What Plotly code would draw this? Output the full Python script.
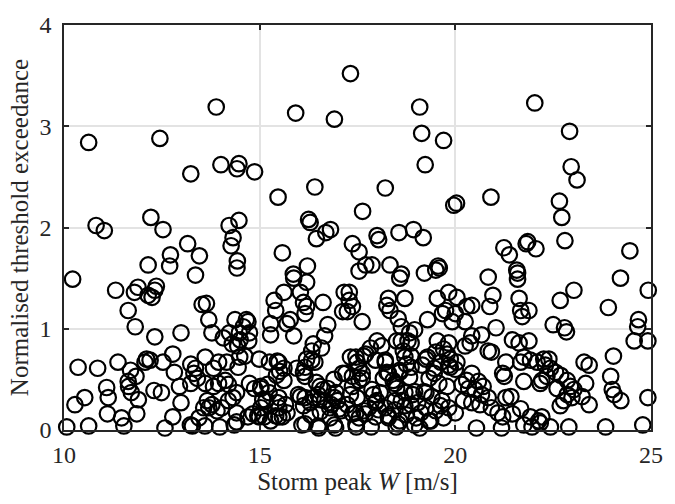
import plotly.graph_objects as go

band_10_12 = [(10.22,1.49),(10.63,2.84),(10.82,2.02),(11.03,1.97),(10.36,0.62),(10.86,0.61),(10.53,0.32),
    (10.28,0.25),(10.07,0.03),(10.63,0.04),(11.09,0.42),(11.32,1.38),(11.80,1.36),(11.89,1.41),(11.64,1.18),
    (11.82,1.02),(11.38,0.67),(11.70,0.59),(11.84,0.53),(11.64,0.48),(11.65,0.43),(11.72,0.37),(11.13,0.32),
    (11.11,0.16),(11.47,0.12),(11.86,0.16),(11.90,0.30),(11.53,0.04)]

band_12_14 = [(12.45,2.88),(13.24,2.53),(13.89,3.19),(12.22,2.10),(12.53,1.98),(13.16,1.84),(13.46,1.72),
    (12.72,1.73),(12.15,1.63),(12.70,1.62),(13.36,1.53),(12.15,1.33),(12.36,1.42),(12.32,1.38),(12.25,1.31),
    (13.53,1.24),(13.64,1.25),(13.70,1.09),(13.78,0.96),(12.32,0.92),(12.99,0.96),(12.07,0.67),(12.11,0.70),
    (12.20,0.69),(12.53,0.67),(12.78,0.75),(12.82,0.57),(13.24,0.65),(13.36,0.61),(13.32,0.56),(13.61,0.72),
    (13.95,0.67),(13.82,0.61),(12.30,0.39),(12.49,0.37),(12.95,0.43),(12.99,0.27),(13.24,0.46),(13.41,0.51),
    (13.61,0.46),(13.82,0.43),(13.95,0.46),(12.78,0.13),(12.58,0.02),(13.23,0.05),(13.28,0.04),(13.60,0.04),
    (13.98,0.03),(13.45,0.12),(13.66,0.29),(13.78,0.25),(13.70,0.22),(13.57,0.22),(13.91,0.19)]

band_14_15 = [(14.01,2.62),(14.47,2.63),(14.42,2.58),(14.87,2.55),(14.22,2.02),(14.47,2.07),(14.32,1.90),
    (14.27,1.82),(14.43,1.67),(14.42,1.60),(14.37,1.09),(14.66,1.09),(14.58,1.02),(14.48,0.96),(14.50,0.89),
    (14.23,0.96),(14.07,0.91),(14.30,0.85),(14.44,0.83),(14.16,0.67),(14.49,0.72),(14.45,0.62),(14.62,0.73),
    (14.74,0.46),(14.70,1.07),(14.74,0.96),(14.72,0.88),(14.99,0.70),(14.03,0.22),(14.20,0.29),(14.32,0.32),
    (14.41,0.37),(14.41,0.17),(14.12,0.49),(14.20,0.45),(14.35,0.05),(14.41,0.08),(14.70,0.13),(14.87,0.41),
    (14.83,0.16),(14.99,0.13)]

band_15_16 = [(15.47,2.30),(15.58,1.75),(15.92,3.13),(15.86,1.54),(15.87,1.50),(15.62,1.36),(15.37,1.28),
    (15.41,1.18),(15.28,1.05),(15.28,0.94),(15.70,1.05),(15.78,1.09),(15.87,0.93),(15.25,0.67),(15.45,0.68),
    (15.51,0.58),(15.43,0.54),(15.95,0.61),(15.03,0.43),(15.20,0.45),(15.24,0.37),(15.08,0.30),(15.03,0.22),
    (15.12,0.13),(15.28,0.09),(15.49,0.13),(15.49,0.32),(15.66,0.25),(15.49,0.22),(15.70,0.17),(15.58,0.13),
    (15.99,0.35)]

band_16_17 = [(16.91,3.07),(16.41,2.40),(16.25,2.08),(16.29,2.05),(16.45,1.89),(16.69,1.95),(16.81,1.98),
    (16.22,1.62),(16.20,1.46),(16.04,1.36),(16.12,1.26),(16.20,1.22),(16.16,1.15),(16.62,1.26),(16.74,1.04),
    (16.66,0.93),(16.58,0.81),(16.33,0.78),(16.20,0.70),(16.41,0.67),(16.12,0.57),(16.16,0.53),(16.16,0.32),
    (16.12,0.24),(16.37,0.32),(16.49,0.35),(16.62,0.40),(16.74,0.41),(16.66,0.29),(16.91,0.32),(16.99,0.29),
    (16.83,0.25),(16.08,0.05),(16.51,0.02),(16.94,0.02),(16.30,0.15),(16.55,0.18),(16.80,0.12),(16.45,0.47),
    (16.90,0.50)]

band_17_18 = [(17.32,3.52),(17.63,2.16),(17.37,1.84),(17.54,1.76),(17.71,1.63),(17.87,1.63),(17.54,1.57),
    (17.16,1.36),(17.12,1.17),(17.29,1.36),(17.29,1.28),(17.37,1.22),(17.24,1.17),(17.62,1.07),(17.12,0.56),
    (17.08,0.19),(17.32,0.72),(17.49,0.67),(17.66,0.73),(17.54,0.61),(17.37,0.53),(17.62,0.51),(17.83,0.81),
    (17.32,0.35),(17.49,0.32),(17.24,0.25),(17.37,0.16),(17.54,0.12),(17.70,0.16),(17.91,0.35),(17.99,0.29),
    (17.79,0.22),(17.47,0.03),(17.85,0.03)]

band_18_19 = [(18.00,1.92),(18.04,1.88),(18.21,2.39),(18.33,1.63),(18.56,1.95),(18.93,1.98),(18.62,1.54),
    (18.58,1.50),(18.00,0.88),(18.12,0.83),(18.29,1.30),(18.25,1.23),(18.33,1.18),(18.71,1.30),(18.54,1.10),
    (18.62,1.02),(18.83,0.96),(18.96,0.99),(18.50,0.88),(18.79,0.88),(18.21,0.67),(18.25,0.57),(18.16,0.51),
    (18.41,0.49),(18.67,0.78),(18.87,0.73),(18.75,0.65),(18.58,0.57),(18.83,0.52),(18.50,0.41),(18.71,0.37),
    (18.91,0.35),(18.62,0.29),(18.87,0.25),(18.46,0.20),(18.75,0.15),(19.00,0.12),(18.54,0.06),(18.29,0.12),
    (18.04,0.20),(18.49,0.03)]

band_19_20 = [(19.09,3.19),(19.14,2.93),(19.70,2.86),(19.23,2.62),(19.96,2.22),(19.18,1.90),(19.56,1.62),
    (19.59,1.60),(19.21,1.55),(19.50,1.58),(19.54,1.30),(19.67,1.15),(19.29,1.09),(19.54,0.88),(19.50,0.77),
    (19.83,1.36),(19.75,1.18),(19.92,1.07),(19.83,0.86),(19.70,0.80),(19.25,0.70),(19.46,0.61),(19.16,0.64),
    (19.63,0.67),(19.33,0.51),(19.58,0.46),(19.20,0.38),(19.40,0.33),(19.66,0.29),(19.25,0.22),(19.50,0.19),
    (19.70,0.12),(19.37,0.09),(19.87,0.70),(19.83,0.64),(19.83,0.22),(19.09,0.02)]

band_dense_15_20 = [(16.37,0.85),(18.62,0.88),(18.87,0.86),(19.79,0.75),(19.29,0.72),(18.71,0.72),
    (18.21,0.69),(17.71,0.75),(17.46,0.72),(15.49,0.67),(15.62,0.61),(16.16,0.62),(16.33,0.69),(17.20,0.56),
    (17.62,0.56),(17.96,0.69),(18.29,0.56),(18.58,0.59),(18.87,0.62),(19.46,0.56),(19.87,0.62),(15.03,0.41),
    (15.62,0.49),(16.04,0.33),(16.54,0.43),(16.95,0.37),(17.37,0.43),(17.54,0.49),(17.87,0.40),(18.08,0.37),
    (18.46,0.46),(18.96,0.38),(19.25,0.37),(19.79,0.43),(15.16,0.29),(15.45,0.27),(16.29,0.27),(16.54,0.30),
    (16.79,0.22),(17.04,0.21),(17.46,0.17),(17.66,0.19),(17.96,0.27),(18.21,0.22),(18.46,0.29),(18.71,0.24),
    (19.04,0.27),(19.62,0.24),(14.95,0.14),(15.41,0.14),(16.16,0.06),(16.49,0.04),(16.91,0.05),(17.46,0.06),
    (17.96,0.13),(18.29,0.14),(18.58,0.09),(18.96,0.05),(19.33,0.09),(19.12,0.17)]

band_20_21 = [(20.03,2.24),(20.91,2.30),(20.84,1.51),(20.04,1.31),(20.29,1.22),(20.42,1.23),(20.00,1.15),
    (20.25,1.07),(20.96,1.33),(20.88,1.22),(21.04,1.01),(20.42,0.93),(20.38,0.86),(20.25,0.83),(20.67,0.94),
    (20.84,0.78),(20.92,0.77),(20.04,0.67),(20.00,0.60),(20.42,0.56),(20.29,0.49),(20.59,0.48),(20.17,0.45),
    (20.34,0.41),(20.71,0.43),(20.50,0.40),(20.67,0.35),(20.84,0.32),(20.63,0.25),(20.42,0.27),(20.21,0.29),
    (20.00,0.17),(20.92,0.22),(20.54,0.02)]

band_21_22 = [(21.24,1.80),(21.38,1.73),(21.81,1.84),(21.85,1.86),(22.06,1.79),(21.57,1.58),(21.59,1.55),
    (21.59,1.49),(21.63,1.30),(21.67,1.18),(21.88,1.18),(21.71,1.12),(21.46,0.89),(21.63,0.86),(21.88,0.88),
    (21.75,0.72),(21.92,0.69),(21.67,0.67),(21.29,0.67),(21.21,0.56),(21.25,0.53),(21.75,0.48),(21.09,0.17),
    (21.29,0.32),(21.42,0.33),(21.21,0.13),(21.46,0.16),(21.67,0.21),(21.92,0.13),(21.75,0.05),(21.96,0.03),
    (21.18,0.02)]

band_22_25 = [(22.03,3.23),(22.92,2.95),(22.96,2.60),(23.11,2.47),(22.66,2.26),(22.72,2.10),(22.80,1.87),
    (24.46,1.77),(24.22,1.50),(22.09,0.67),(22.17,0.46),(22.13,0.09),(22.17,0.07),(23.03,1.38),(22.68,1.28),
    (24.93,1.38),(23.91,1.21),(22.50,1.04),(22.79,1.01),(22.84,0.97),(24.68,1.09),(24.66,1.02),(24.57,0.88),
    (24.92,0.88),(24.04,0.73),(23.29,0.67),(23.42,0.64),(23.97,0.53),(24.01,0.40),(24.06,0.35),(24.23,0.29),
    (24.92,0.32),(22.26,0.70),(22.39,0.70),(22.30,0.64),(22.43,0.61),(22.56,0.57),(22.69,0.54),(22.34,0.53),
    (22.21,0.49),(22.86,0.49),(22.60,0.41),(22.94,0.43),(23.03,0.40),(22.86,0.35),(22.98,0.32),(22.77,0.29),
    (22.68,0.24),(23.24,0.33),(23.42,0.25),(23.33,0.46),(22.21,0.13),(22.43,0.03),(22.90,0.03),(23.84,0.03),
    (24.79,0.05)]

x_ticks = [10, 15, 20, 25]
y_ticks = [0, 1, 2, 3, 4]

bands = [band_10_12, band_12_14, band_14_15, band_15_16, band_16_17, band_17_18,
         band_18_19, band_19_20, band_dense_15_20, band_20_21, band_21_22, band_22_25]
xs = [p[0] for b in bands for p in b]
ys = [p[1] for b in bands for p in b]

FONT = "Liberation Serif"
TXT = "#262626"
fig = go.Figure(go.Scatter(
    x=xs, y=ys, mode="markers", cliponaxis=False,
    marker=dict(symbol="circle-open", size=15.5, color="black", line=dict(width=2.2, color="black")),
    showlegend=False))

axis_common = dict(showgrid=True, gridcolor="#e3e3e3", gridwidth=1.5, zeroline=False,
                   showline=True, linecolor=TXT, linewidth=1.5, mirror="ticks",
                   ticks="inside", ticklen=5, tickwidth=1.5, tickcolor=TXT,
                   tickfont=dict(family=FONT, size=24, color=TXT))
fig.update_xaxes(range=[10, 25], tickvals=x_ticks, ticktext=[str(t) for t in x_ticks],
                 ticklabelstandoff=2,
                 title=dict(text="Storm peak <i>W</i> [m/s]", font=dict(family=FONT, size=25, color=TXT), standoff=6),
                 **axis_common)
fig.update_yaxes(range=[0, 4], tickvals=y_ticks, ticktext=[str(t) for t in y_ticks],
                 ticklabelstandoff=6,
                 title=dict(text="Normalised threshold exceedance", font=dict(family=FONT, size=25, color=TXT), standoff=4),
                 **axis_common)
fig.update_layout(width=675, height=504, margin=dict(l=64, r=12, t=14, b=74),
                  plot_bgcolor="white", paper_bgcolor="white")
fig.write_html("out.html")
